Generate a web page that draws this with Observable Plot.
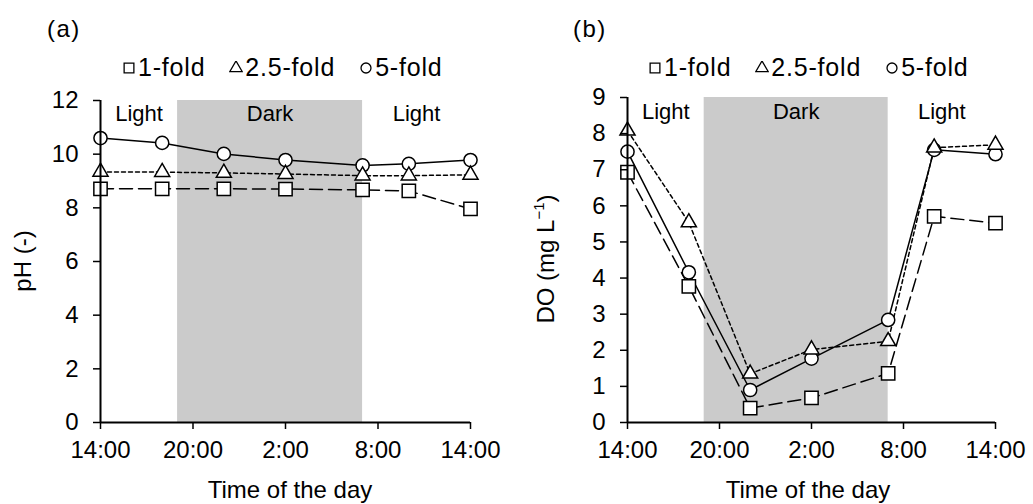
<!DOCTYPE html>
<html><head><meta charset="utf-8">
<script src="https://cdn.jsdelivr.net/npm/d3@7"></script>
<script src="https://cdn.jsdelivr.net/npm/@observablehq/plot@0.6"></script>
<style>
body{margin:0;background:#fff;}
#wrap{position:relative;width:1033px;height:504px;font-family:"Liberation Sans",Arial,sans-serif;color:#000;overflow:hidden;}
.panel{position:absolute;top:0;}
.lab{position:absolute;font-size:24px;line-height:24px;white-space:nowrap;}
.tag{letter-spacing:1.5px;}
.rot{transform:translate(-50%,-50%) rotate(-90deg);}
.legend{position:absolute;display:flex;align-items:center;font-size:25px;line-height:25px;white-space:nowrap;letter-spacing:0.8px;}
.legend .item{display:flex;align-items:center;margin-right:24px;}
.legend svg{margin-right:2px;}
sup{font-size:15px;line-height:0;vertical-align:10px;}
</style></head><body><div id="wrap"></div>
<script>
// hours elapsed since 14:00
const hours = [0, 4, 8, 12, 17, 20, 24];
const xTickValues = [0, 6, 12, 18, 24];
const xTickLabels = ["14:00", "20:00", "2:00", "8:00", "14:00"];
const seriesNames = ["1-fold", "2.5-fold", "5-fold"];
const seriesSymbols = ["square", "triangle", "circle"];
const periods = [
  {label: "Light", start: 0, end: 5},
  {label: "Dark", start: 5, end: 17},
  {label: "Light", start: 17, end: 24}
];
// (a) pH
const phTicks = [0, 2, 4, 6, 8, 10, 12];
const phOneFold = [8.71, 8.71, 8.71, 8.70, 8.67, 8.63, 7.96];
const phTwoFive = [9.34, 9.33, 9.30, 9.26, 9.20, 9.20, 9.23];
const phFive = [10.60, 10.42, 10.01, 9.78, 9.58, 9.64, 9.78];
// (b) DO
const doTicks = [0, 1, 2, 3, 4, 5, 6, 7, 8, 9];
const doOneFold = [6.93, 3.77, 0.40, 0.68, 1.36, 5.71, 5.52];
const doTwoFive = [8.08, 5.54, 1.35, 2.02, 2.25, 7.61, 7.69];
const doFive = [7.50, 4.16, 0.90, 1.77, 2.84, 7.55, 7.43];

const dashes = {"1-fold": "13,6", "2.5-fold": "4,3", "5-fold": null};
const radius = {square: 7.5, triangle: 5.6, circle: 6.6};

function table(vals) { return hours.map((t, i) => ({t, v: vals[i]})); }

function makePanel(cfg) {
  const sets = cfg.series.map((vals, i) => ({name: seriesNames[i], sym: seriesSymbols[i], data: table(vals)}));
  const lineMarks = sets.map(s => Plot.line(s.data, {x: "t", y: "v", stroke: "#000", strokeWidth: 1.5, strokeDasharray: dashes[s.name]}));
  const order = [0, 2, 1];
  const dotMarks = order.map(i => {
    const s = sets[i];
    return Plot.dot(s.data, {x: "t", y: "v", symbol: s.sym, r: radius[s.sym], fill: "#fff", stroke: "#000", strokeWidth: 1.5});
  });
  return Plot.plot({
    width: cfg.width, height: 504,
    marginLeft: cfg.ml, marginRight: cfg.mr, marginTop: cfg.mt, marginBottom: cfg.mb,
    x: {domain: [0, 24], axis: null},
    y: {domain: [0, cfg.ymax], axis: null},
    style: {fontFamily: '"Liberation Sans", Arial, sans-serif', fontSize: "24px", color: "#000", background: "transparent", overflow: "visible"},
    marks: [
      Plot.rect(periods.filter(p => p.label === "Dark"), {x1: "start", x2: "end", fill: "#cbcbcb"}),
      Plot.text(periods, {x: d => (d.start + d.end) / 2, text: "label", frameAnchor: "top", lineAnchor: "top", dy: cfg.labDy, fontSize: 22, fill: "#000"}),
      ...lineMarks,
      ...dotMarks,
      Plot.axisX({ticks: xTickValues, tickFormat: d => xTickLabels[xTickValues.indexOf(d)], tickSize: 7, tickPadding: 11, strokeWidth: 1.5, label: null, fontSize: 24}),
      Plot.axisY({ticks: cfg.ticks, tickSize: 7, tickPadding: 15, strokeWidth: 1.5, label: null, fontSize: 24}),
      Plot.ruleX([0], {stroke: "#000", strokeWidth: 2}),
      Plot.ruleY([0], {stroke: "#000", strokeWidth: 2})
    ]
  });
}

const wrap = document.getElementById("wrap");
function place(el, left) { el.classList.add("panel"); el.style.left = left + "px"; wrap.appendChild(el); }

place(makePanel({width: 516, ml: 100, mr: 46, mt: 100, mb: 82, ymax: 12, ticks: phTicks, series: [phOneFold, phTwoFive, phFive], labDy: 5}), 0);
place(makePanel({width: 516, ml: 110, mr: 38, mt: 97, mb: 82, ymax: 9, ticks: doTicks, series: [doOneFold, doTwoFive, doFive], labDy: 6}), 517);

function addLabel(html, left, top, cls) {
  const d = document.createElement("div");
  d.className = "lab" + (cls ? " " + cls : "");
  d.innerHTML = html;
  d.style.left = left + "px"; d.style.top = top + "px";
  wrap.appendChild(d);
  return d;
}
addLabel("(a)", 47, 17, "tag");
addLabel("(b)", 573, 17, "tag");
const t1 = addLabel("Time of the day", 290, 478); t1.style.transform = "translateX(-50%)";
const t2 = addLabel("Time of the day", 808, 478); t2.style.transform = "translateX(-50%)";
addLabel("pH (-)", 23, 261, "rot");
addLabel("DO (mg L<sup>\u22121</sup>)", 546, 259, "rot");

const legendSize = {square: 95, triangle: 65, circle: 78};
function addLegend(left, top) {
  const d = document.createElement("div");
  d.className = "legend";
  d.style.left = left + "px"; d.style.top = top + "px";
  seriesNames.forEach((name, i) => {
    const sym = seriesSymbols[i];
    const gen = {square: d3.symbolSquare, triangle: d3.symbolTriangle, circle: d3.symbolCircle}[sym];
    const path = d3.symbol(gen, legendSize[sym])();
    const item = document.createElement("span");
    item.className = "item";
    item.innerHTML = `<svg width="14" height="14" viewBox="-7 -7 14 14"><path d="${path}" fill="#fff" stroke="#000" stroke-width="1.3"/></svg><span>${name}</span>`;
    d.appendChild(item);
  });
  wrap.appendChild(d);
}
addLegend(122, 55);
addLegend(648, 55);
</script></body></html>
